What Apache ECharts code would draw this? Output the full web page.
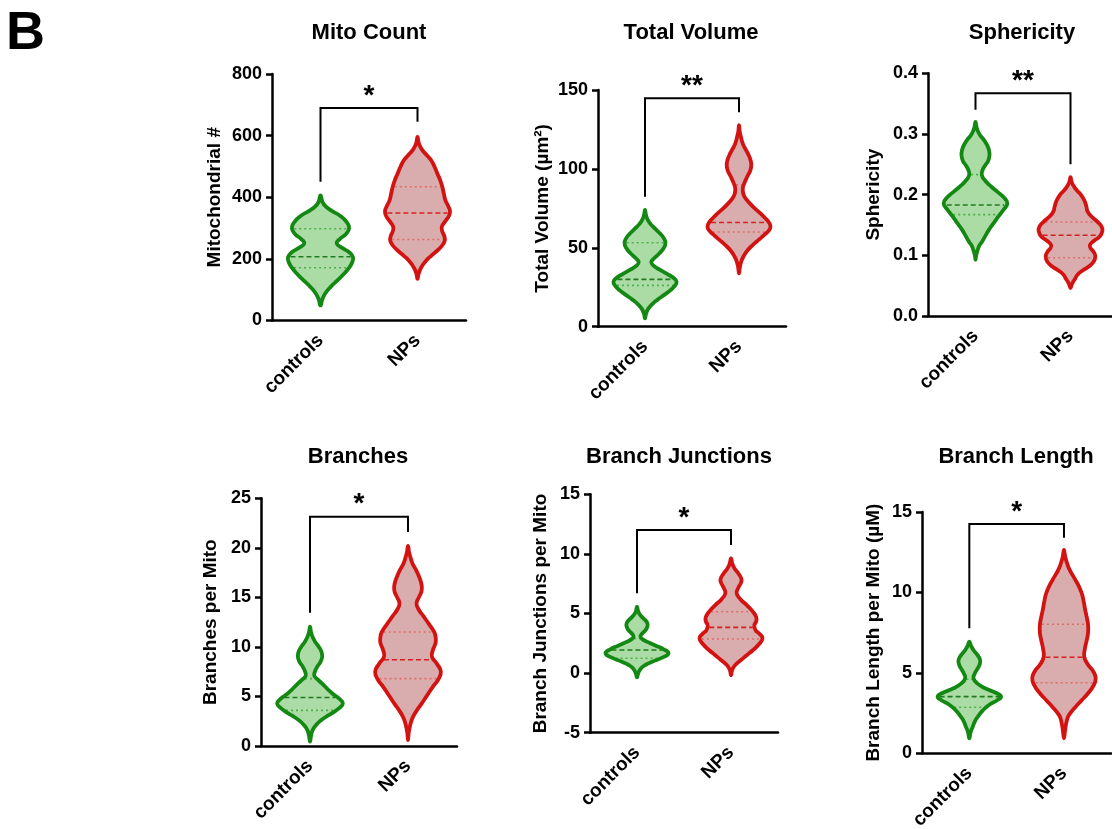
<!DOCTYPE html>
<html>
<head>
<meta charset="utf-8">
<script src="https://cdn.jsdelivr.net/npm/echarts@6/dist/echarts.min.js"></script>
<style>
html, body { margin: 0; padding: 0; background: #fff; }
#main { width: 1112px; height: 829px; }
</style>
</head>
<body>
<div id="main"></div>
<script>
// categories
const categories = ['controls', 'NPs'];

// violin outlines: [value, relative width] from bottom tip to top tip
const mitoCtrl = [[49,0],[70,0.06],[90,0.16],[110,0.32],[130,0.52],[150,0.71],[170,0.87],[190,0.98],[205,1],[220,0.9],[235,0.68],[250,0.5],[265,0.6],[280,0.78],[300,0.88],[320,0.8],[340,0.6],[355,0.36],[370,0.16],[385,0.06],[406,0]];
const mitoNps = [[135,0],[150,0.03],[165,0.08],[180,0.16],[195,0.27],[210,0.42],[228,0.62],[245,0.77],[260,0.84],[275,0.82],[290,0.76],[305,0.75],[320,0.84],[340,0.97],[355,1],[370,0.95],[390,0.86],[412,0.81],[435,0.76],[455,0.7],[475,0.62],[500,0.52],[520,0.42],[535,0.3],[550,0.17],[565,0.08],[580,0.03],[596,0]];
const volCtrl = [[5.3,0],[8,0.03],[11.6,0.11],[14.5,0.24],[17,0.39],[20,0.6],[23,0.8],[26,0.95],[28.5,1],[31,0.9],[33.5,0.7],[36,0.48],[38.5,0.28],[41,0.2],[43.5,0.3],[46.5,0.46],[50,0.6],[53,0.65],[56,0.6],[59,0.48],[62,0.33],[65,0.18],[68,0.08],[71,0.03],[74,0]];
const volNps = [[33.8,0],[38,0.03],[42.3,0.09],[45.5,0.17],[48.6,0.28],[52,0.45],[55,0.62],[58.5,0.82],[61,0.95],[63.4,1],[66,0.95],[69,0.82],[71.8,0.68],[75,0.5],[78,0.35],[81,0.22],[84,0.14],[87.7,0.12],[91,0.17],[95,0.26],[99,0.36],[102.5,0.39],[106,0.36],[109,0.3],[112,0.22],[116,0.12],[120.4,0.06],[124,0.02],[127.8,0]];
const sphCtrl = [[0.093,0],[0.1,0.02],[0.109,0.07],[0.116,0.12],[0.122,0.2],[0.132,0.31],[0.142,0.42],[0.153,0.57],[0.164,0.72],[0.175,0.88],[0.186,1],[0.196,0.88],[0.205,0.68],[0.213,0.5],[0.222,0.32],[0.232,0.2],[0.24,0.22],[0.248,0.3],[0.256,0.4],[0.265,0.44],[0.274,0.42],[0.282,0.36],[0.29,0.27],[0.297,0.16],[0.304,0.08],[0.312,0.03],[0.32,0]];
const sphNps = [[0.046,0],[0.052,0.04],[0.057,0.09],[0.062,0.15],[0.068,0.22],[0.075,0.38],[0.081,0.56],[0.089,0.72],[0.098,0.78],[0.106,0.72],[0.112,0.63],[0.117,0.61],[0.124,0.74],[0.131,0.92],[0.14,1],[0.147,0.98],[0.155,0.85],[0.164,0.66],[0.172,0.54],[0.18,0.5],[0.19,0.44],[0.199,0.34],[0.207,0.2],[0.216,0.08],[0.222,0.03],[0.229,0]];
const brCtrl = [[0.44,0],[1.0,0.03],[1.6,0.08],[2.1,0.18],[2.5,0.3],[2.9,0.47],[3.3,0.66],[3.8,0.88],[4.3,1],[4.8,0.88],[5.3,0.68],[5.8,0.52],[6.2,0.4],[6.7,0.24],[7.1,0.13],[7.5,0.15],[8.0,0.22],[8.5,0.32],[9.0,0.37],[9.5,0.35],[10,0.27],[10.5,0.16],[11,0.08],[11.5,0.03],[12.05,0]];
const brNps = [[0.6,0],[1.3,0.02],[2.0,0.06],[2.5,0.1],[3.0,0.16],[3.6,0.27],[4.3,0.42],[5.1,0.58],[6.0,0.76],[6.7,0.92],[7.5,1],[8.3,0.88],[9.0,0.73],[9.7,0.76],[10.4,0.84],[11.0,0.84],[11.5,0.8],[12.3,0.64],[13.1,0.47],[13.8,0.32],[14.4,0.26],[15.0,0.33],[15.6,0.41],[16.1,0.42],[16.7,0.38],[17.3,0.31],[17.8,0.24],[18.4,0.14],[19.1,0.07],[19.6,0.03],[20.2,0]];
const jnCtrl = [[-0.36,0],[0.0,0.04],[0.4,0.13],[0.7,0.28],[0.95,0.48],[1.3,0.8],[1.65,1],[2.0,0.85],[2.3,0.6],[2.6,0.35],[2.85,0.17],[3.06,0.11],[3.3,0.16],[3.6,0.27],[3.9,0.33],[4.17,0.33],[4.45,0.26],[4.7,0.16],[4.95,0.08],[5.25,0.03],[5.57,0]];
const jnNps = [[-0.17,0],[0.2,0.03],[0.53,0.09],[0.8,0.18],[1.1,0.32],[1.5,0.5],[1.94,0.7],[2.4,0.88],[2.92,1],[3.3,0.9],[3.6,0.78],[4.0,0.74],[4.35,0.8],[4.7,0.8],[5.2,0.68],[5.7,0.5],[6.2,0.3],[6.7,0.18],[7.2,0.24],[7.6,0.32],[7.9,0.33],[8.3,0.25],[8.79,0.11],[9.2,0.04],[9.63,0]];
const lenCtrl = [[0.93,0],[1.3,0.04],[1.66,0.11],[2.0,0.18],[2.28,0.27],[2.65,0.42],[3.0,0.62],[3.3,0.88],[3.52,1],[3.75,0.85],[4.04,0.5],[4.35,0.25],[4.66,0.13],[4.95,0.17],[5.2,0.24],[5.5,0.32],[5.8,0.34],[6.1,0.26],[6.42,0.13],[6.7,0.05],[6.94,0]];
const lenNps = [[0.93,0],[1.5,0.04],[2.18,0.11],[2.5,0.2],[2.9,0.37],[3.3,0.56],[3.73,0.76],[4.2,0.93],[4.66,1],[5.1,0.92],[5.5,0.76],[6.0,0.64],[6.5,0.66],[7.05,0.72],[7.5,0.76],[7.98,0.76],[8.45,0.72],[8.9,0.67],[9.45,0.62],[9.95,0.56],[10.5,0.44],[10.98,0.3],[11.4,0.18],[11.8,0.1],[12.2,0.04],[12.64,0]];

// quartiles: [Q1, median, Q3]
const mitoCtrlQ = [171, 207, 298], mitoNpsQ = [263, 349, 434];
const volCtrlQ = [26.2, 30, 53.2], volNpsQ = [60, 66, 90];
const sphCtrlQ = [0.167, 0.183, 0.233], sphNpsQ = [0.096, 0.133, 0.155];
const brCtrlQ = [3.6, 4.9, 6.8], brNpsQ = [6.8, 8.7, 11.5];
const jnCtrlQ = [1.24, 1.94, 2.9], jnNpsQ = [2.86, 3.84, 5.15];
const lenCtrlQ = [2.86, 3.52, 4.6], lenNpsQ = [4.39, 5.97, 8.02];

// significance brackets: [controls leg bottom, top, NPs leg bottom]
const mitoBr = [450, 690, 645];
const volBr = [82.4, 144.7, 135.9];
const sphBr = [0.340, 0.367, 0.250];
const brBr = [13.46, 23.15, 21.6];
const jnBr = [6.7, 12.0, 10.74];
const lenBr = [7.77, 14.25, 13.4];

// y axis ranges: [min, max, interval]
const mitoY = [0, 800, 200], volY = [0, 150, 50], sphY = [0, 0.4, 0.1];
const brY = [0, 25, 5], jnY = [-5, 15, 5], lenY = [0, 15, 5];

const panels = [
  { title: 'Mito Count', yName: 'Mitochondrial #', y: mitoY, prof: [mitoCtrl, mitoNps], q: [mitoCtrlQ, mitoNpsQ], br: mitoBr, star: '*',
    grid: { left: 272, top: 74, width: 194, height: 246.5 }, gap: 48, tx: 369, ty: 33 },
  { title: 'Total Volume', yName: 'Total Volume (µm²)', y: volY, prof: [volCtrl, volNps], q: [volCtrlQ, volNpsQ], br: volBr, star: '**',
    grid: { left: 598, top: 90, width: 188, height: 236.7 }, gap: 46, tx: 691, ty: 33 },
  { title: 'Sphericity', yName: 'Sphericity', y: sphY, prof: [sphCtrl, sphNps], q: [sphCtrlQ, sphNpsQ], br: sphBr, star: '**', dec: 1,
    grid: { left: 928, top: 73.3, width: 190, height: 242.7 }, gap: 45, tx: 1022, ty: 33 },
  { title: 'Branches', yName: 'Branches per Mito', y: brY, prof: [brCtrl, brNps], q: [brCtrlQ, brNpsQ], br: brBr, star: '*',
    grid: { left: 261, top: 498.3, width: 196, height: 247.7 }, gap: 41, tx: 358, ty: 457 },
  { title: 'Branch Junctions', yName: 'Branch Junctions per Mito', y: jnY, prof: [jnCtrl, jnNps], q: [jnCtrlQ, jnNpsQ], br: jnBr, star: '*',
    grid: { left: 590, top: 494.3, width: 188, height: 238.4 }, gap: 40, tx: 679, ty: 457 },
  { title: 'Branch Length', yName: 'Branch Length per Mito (µM)', y: lenY, prof: [lenCtrl, lenNps], q: [lenCtrlQ, lenNpsQ], br: lenBr, star: '*',
    grid: { left: 922, top: 512, width: 189.3, height: 241.3 }, gap: 39, tx: 1016, ty: 457 }
];

const looks = [
  { fill: '#acdca5', line: '#138813', median: '#1f7a1f', quart: '#4caf4c' },
  { fill: '#d9adad', line: '#d31212', median: '#d42020', quart: '#e46a6a' }
];

function widthAt(prof, v) {
  for (let k = 1; k < prof.length; k++) {
    if (v <= prof[k][0]) {
      const a = prof[k - 1], b = prof[k];
      return a[1] + (b[1] - a[1]) * (v - a[0]) / (b[0] - a[0]);
    }
  }
  return 0;
}

function violinRender(p) {
  return function (params, api) {
    const i = params.dataIndex;
    const prof = p.prof[i], q = p.q[i], st = looks[i];
    const cx = api.coord([i, 0])[0];
    const hw = api.size([1, 0])[0] * 0.335;
    const right = prof.map(d => [cx + d[1] * hw, api.coord([i, d[0]])[1]]);
    const left = prof.slice(1, -1).reverse().map(d => [cx - d[1] * hw, api.coord([i, d[0]])[1]]);
    const pts = right.concat(left);
    const children = [{ type: 'polygon', shape: { points: pts, smooth: 0.5 }, style: { fill: st.fill } }];
    q.forEach((v, k) => {
      const w = Math.max(widthAt(prof, v) * hw - 2, 0);
      const y = api.coord([i, v])[1];
      children.push({
        type: 'line', shape: { x1: cx - w, y1: y, x2: cx + w, y2: y },
        style: { stroke: k === 1 ? st.median : st.quart, lineWidth: 1.6, lineDash: k === 1 ? [5, 3] : [2, 3] }
      });
    });
    children.push({ type: 'polygon', shape: { points: pts, smooth: 0.5 },
      style: { fill: 'none', stroke: st.line, lineWidth: 3.8, lineJoin: 'round' } });
    return { type: 'group', children: children };
  };
}

function bracketRender(p) {
  return function (params, api) {
    const b = p.br;
    const a0 = api.coord([0, b[0]]), a1 = api.coord([0, b[1]]);
    const a2 = api.coord([1, b[1]]), a3 = api.coord([1, b[2]]);
    return {
      type: 'group',
      children: [
        { type: 'polyline', shape: { points: [a0, a1, a2, a3] }, style: { fill: 'none', stroke: '#000', lineWidth: 2 } },
        { type: 'text', x: (a1[0] + a2[0]) / 2, y: a1[1] - 12,
          style: { text: p.star, font: 'bold 28px "Liberation Sans"', fill: '#000', align: 'center', verticalAlign: 'middle' } }
      ]
    };
  };
}

const chart = echarts.init(document.getElementById('main'));

const grid = [], xAxis = [], yAxis = [], series = [];
const graphic = [{ type: 'text', x: 6, y: 34, style: { text: 'B', font: 'bold 54px "Liberation Sans"', fill: '#000', verticalAlign: 'middle' } }];

panels.forEach((p, k) => {
  grid.push(Object.assign({ outerBoundsMode: 'none', containLabel: false }, p.grid));
  xAxis.push({
    gridIndex: k, type: 'category', data: categories,
    axisLine: { onZero: false, lineStyle: { color: '#000', width: 2.5 } },
    axisTick: { alignWithLabel: true, length: 6, lineStyle: { color: '#000', width: 2.5 } },
    axisLabel: { rotate: 45, margin: 17, color: '#000', fontFamily: 'Liberation Sans', fontWeight: 'bold', fontSize: 19 },
    splitLine: { show: false }
  });
  yAxis.push({
    gridIndex: k, type: 'value', min: p.y[0], max: p.y[1], interval: p.y[2],
    name: p.yName, nameLocation: 'middle', nameRotate: 90, nameGap: p.gap,
    nameTextStyle: { color: '#000', fontFamily: 'Liberation Sans', fontWeight: 'bold', fontSize: 19 },
    axisLine: { show: true, lineStyle: { color: '#000', width: 2.5 } },
    axisTick: { show: true, length: 6, lineStyle: { color: '#000', width: 2.5 } },
    axisLabel: { margin: 10, color: '#000', fontFamily: 'Liberation Sans', fontWeight: 'bold', fontSize: 18,
      formatter: v => p.dec ? v.toFixed(p.dec) : String(v) },
    splitLine: { show: false }
  });
  series.push({
    type: 'custom', xAxisIndex: k, yAxisIndex: k,
    data: [[0, p.q[0][1]], [1, p.q[1][1]]],
    renderItem: violinRender(p), clip: false, silent: true
  });
  series.push({
    type: 'custom', xAxisIndex: k, yAxisIndex: k,
    data: [[0, p.br[1]]],
    renderItem: bracketRender(p), clip: false, silent: true
  });
  graphic.push({ type: 'text', x: p.tx, y: p.ty,
    style: { text: p.title, font: 'bold 22px "Liberation Sans"', fill: '#000', align: 'center', verticalAlign: 'middle' } });
});

chart.setOption({
  animation: false,
  backgroundColor: '#fff',
  grid: grid,
  xAxis: xAxis,
  yAxis: yAxis,
  series: series,
  graphic: graphic
});
</script>
</body>
</html>
